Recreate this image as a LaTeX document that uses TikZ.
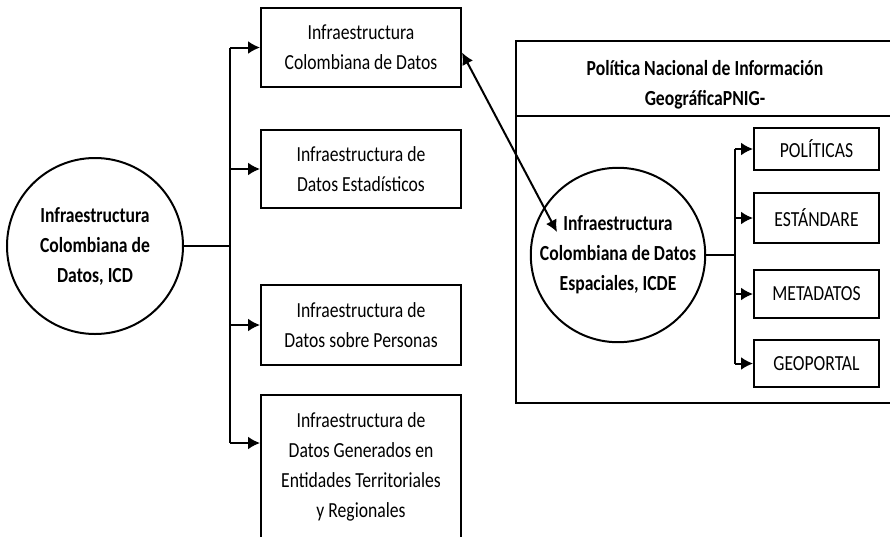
\documentclass[tikz,border=0pt]{standalone}
\usepackage{fontspec}
\setmainfont{Carlito}[FakeStretch=0.82]
\usetikzlibrary{arrows.meta,calc,positioning}

\begin{document}
\begin{tikzpicture}[x=1pt,y=-1pt,
      line width=2pt,
      every node/.style={font=\fontsize{21.5}{30}\selectfont,align=center,inner sep=0pt},
      circ/.style={draw,circle,font=\fontsize{21.5}{30}\selectfont\bfseries},
      infra/.style={draw,minimum width=200pt},
      comp/.style={draw,minimum width=125pt},
      arr/.style={-{Latex[length=12pt,width=13pt]}},
      dblarr/.style={{Latex[length=12pt,width=12pt]}-{Latex[length=12pt,width=12pt]}}
     ]
    \useasboundingbox (0,0) rectangle (890,536);
    % left side
    \node[circ,minimum size=176pt] (icd) at (95,246)
      {Infraestructura\\Colombiana de\\Datos, ICD};
    \node[infra,minimum height=79pt] (datos) at (361,47.5)
      {Infraestructura\\Colombiana de Datos};
    \node[infra,minimum height=78pt] (estad) at (361,169)
      {Infraestructura de\\Datos Estadísticos};
    \node[infra,minimum height=80pt] (pers) at (361,325)
      {Infraestructura de\\Datos sobre Personas};
    \node[infra,minimum height=144pt] (terr) at (361,467)
      {Infraestructura de\\Datos Generados en\\Entidades Territoriales\\y Regionales};
    \coordinate (bus) at (230,246);
    \draw (icd) -- (bus);
    \draw (bus |- datos) -- (bus |- 0,443);
    \draw[arr] (bus |- datos) -- (datos);
    \draw[arr] (bus |- estad) -- (estad);
    \draw[arr] (bus |- pers) -- (pers);
    \draw[arr] (bus |- 0,443) -- ([yshift=24pt]terr.west);

    % PNIG frame
    \draw (516,41) rectangle (894,403);
    \draw (516,116) -- (894,116);
    \node[font=\fontsize{21.5}{30}\selectfont\bfseries] (pnig) at (705,85)
      {Política Nacional de Información\\GeográficaPNIG-};
    \node[circ,minimum size=172pt] (icde) at (618,255)
      {Infraestructura\\Colombiana de Datos\\Espaciales, ICDE};
    \node[comp,minimum height=42pt] (pol) at (816.5,149) {POLÍTICAS};
    \node[comp,minimum height=50pt] (est) at (816.5,218) {ESTÁNDARE};
    \node[comp,minimum height=48pt] (meta) at (816.5,294) {METADATOS};
    \node[comp,minimum height=47pt] (geo) at (816.5,363.5) {GEOPORTAL};
    \coordinate (bus2) at (735,255);
    \draw (icde) -- (bus2);
    \draw (bus2 |- pol) -- (bus2 |- geo);
    \foreach \n in {pol,est,meta,geo}
      \draw[arr] (bus2 |- \n) -- (\n);

    % link
    \draw[dblarr] ([yshift=-5pt]datos.east) -- ([shift={(-61,-23)}]icde.center);
\end{tikzpicture}
\end{document}
